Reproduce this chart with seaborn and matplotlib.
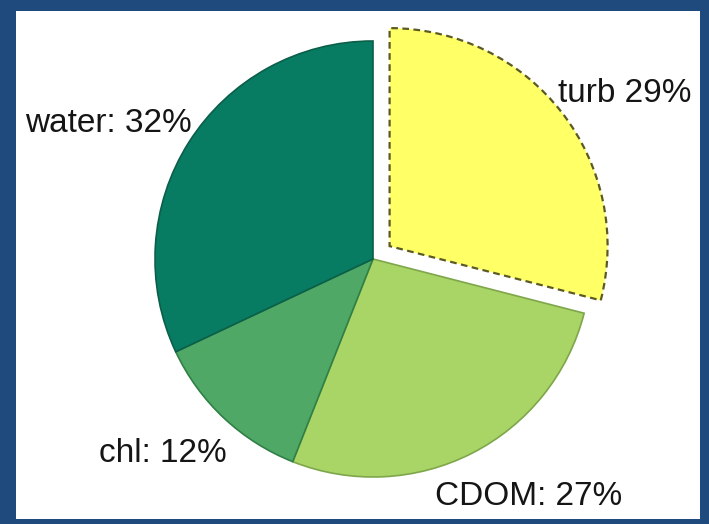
import matplotlib
matplotlib.use("Agg")
import matplotlib.pyplot as plt
from matplotlib.patches import Rectangle
import seaborn as sns

# Share of absorption by each water constituent (percent)
components = ["turb", "CDOM", "chl", "water"]
shares = [29, 27, 12, 32]
label_texts = ["turb 29%", "CDOM: 27%", "chl: 12%", "water: 32%"]

fill_colors = ["#ffff66", "#a9d466", "#4fa866", "#077c63"]
edge_colors = ["#5c5a24", "#7ea64a", "#2f8045", "#0b5f49"]

sns.set_style("white")
plt.rcParams["font.family"] = ["Liberation Sans", "DejaVu Sans"]
palette = sns.color_palette(fill_colors)

W, H = 709, 524
fig = plt.figure(figsize=(W / 100, H / 100), dpi=100, facecolor="#1f4a7e")

ax = fig.add_axes([0, 0, 1, 1])
ax.patch.set_alpha(0)

# white slide panel
ax.add_patch(Rectangle((16, H - 519), 700 - 16, 519 - 11, facecolor="white",
                       edgecolor="none", zorder=0))

radius = 218
# explode offsets are in data units here (pixels), since the radius is in pixels too
wedges, _ = ax.pie(shares, colors=palette, startangle=90, counterclock=False,
                   explode=[21, 0, 0, 0], center=(373, H - 259), radius=radius,
                   frame=True, wedgeprops=dict(zorder=2))
ax.set_xlim(0, W)
ax.set_ylim(0, H)
ax.set_aspect("equal")
ax.axis("off")

for w, ec in zip(wedges, edge_colors):
    w.set_edgecolor(ec)
    w.set_linewidth(1.2)
    w.set_zorder(2)
wedges[0].set_linestyle((0, (3, 2)))
wedges[0].set_linewidth(1.6)

# slice labels (left edge x, baseline y, in pixels from top-left)
label_pos = [(558, 102), (435, 505), (99, 462), (25, 132)]
for txt, (x, y) in zip(label_texts, label_pos):
    ax.text(x, H - y, txt, fontsize=24, color="#151515", ha="left",
            va="baseline", zorder=3)

fig.savefig("out.png", dpi=100, facecolor=fig.get_facecolor())
